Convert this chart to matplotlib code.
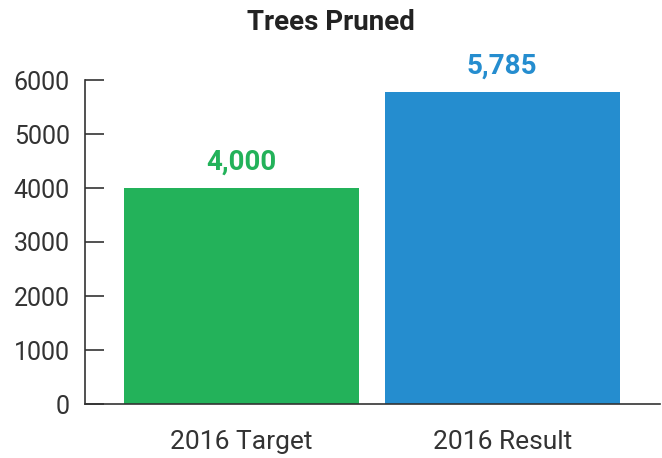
import matplotlib
matplotlib.use("Agg")
import matplotlib.pyplot as plt

categories = ["2016 Target", "2016 Result"]
values = [4000, 5785]
value_labels = ["4,000", "5,785"]
colors = ["#23B25A", "#258DCF"]
yticks = [0, 1000, 2000, 3000, 4000, 5000, 6000]

plt.rcParams['font.family'] = ['Roboto', 'DejaVu Sans']

fig = plt.figure(figsize=(6.62, 4.58), dpi=100)
W, H = 662, 458
ax = fig.add_axes([85/W, 1-404/H, (660-85)/W, (404-80)/H])

x = list(range(len(categories)))
bars = ax.bar(x, values, width=0.9, color=colors)
ax.set_xlim(-0.6, 1.605)
ax.set_ylim(0, 6000)
ax.set_yticks(yticks)
ax.set_yticklabels([str(t) for t in yticks], fontsize=18, color="#333333")
ax.set_xticks(x)
ax.set_xticklabels(categories, fontsize=19, color="#333333")
ax.tick_params(axis='y', direction='in', length=14, width=1.2, color="#333333", pad=11)
ax.tick_params(axis='x', length=0, pad=19)
for s in ['top', 'right']:
    ax.spines[s].set_visible(False)
for s in ['left', 'bottom']:
    ax.spines[s].set_color("#333333")
    ax.spines[s].set_linewidth(1.2)

for xi, v, lab, c in zip(x, values, value_labels, colors):
    ax.text(xi, v + 230, lab, ha='center', va='bottom', fontsize=20,
            fontweight='bold', color=c, clip_on=False)

fig.text(0.5, 1-22/H, "Trees Pruned", ha='center', va='center', fontsize=20,
         fontweight='bold', color="#222222")

fig.savefig("out.png", dpi=100)
